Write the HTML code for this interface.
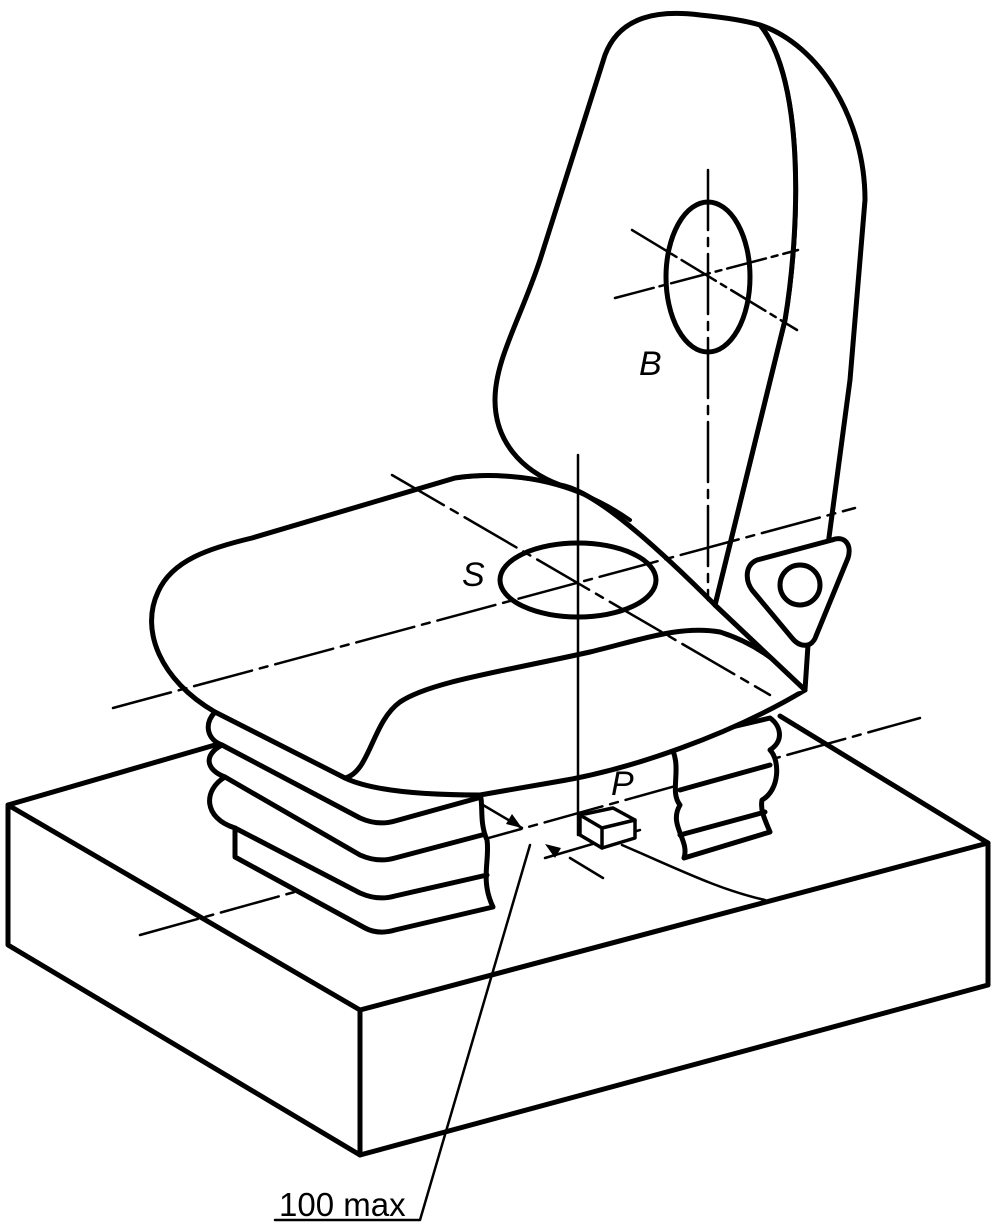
<!DOCTYPE html>
<html><head><meta charset="utf-8"><style>
html,body{margin:0;padding:0;background:#fff;}
svg{display:block;}
text{font-family:"Liberation Sans",Arial,sans-serif;fill:#000;}
</style></head><body>
<svg width="994" height="1232" viewBox="0 0 994 1232" xmlns="http://www.w3.org/2000/svg">
<g fill="none" stroke="#000" stroke-linejoin="round" stroke-linecap="round">
<g stroke-width="5">
<path d="M8,805 L215,745"/>
<path d="M8,805 L360,1010 L988,843 L988,985 L360,1155 L8,945 Z"/>
<path d="M360,1010 L360,1155"/>
<path d="M780,716 L988,843"/>
</g>
<g stroke-width="2.5">
<path d="M140,935 L920,718" stroke-dasharray="60,8,8,8"/>
<path d="M545,858 L640,830"/>
<path d="M483,805 L522,828"/>
<path d="M603,878 L570,858"/>
<path d="M530,845 L420,1220 L275,1220"/>
<path d="M622,845 C680,870 720,890 765,900"/>
</g>
<polygon points="522,828 506,824 512,814" fill="#000" stroke="none"/>
<polygon points="545,844 561,848 555,858" fill="#000" stroke="none"/>
<g stroke-width="5" fill="#fff">
<path d="M668,742 C685,765 668,790 680,805 C668,825 690,840 684,858 L770,832 C765,820 760,810 762,800 C780,790 780,760 770,750 C785,740 780,725 770,718 Z"/>
</g>
<g stroke-width="5">
<path d="M680,790 L770,765"/>
<path d="M680,835 L765,812"/>
</g>
<g stroke-width="5" fill="#fff">
<path d="M215,712 C203,725 208,740 222,745 C203,755 206,770 225,777 C203,790 203,818 235,828 L235,857 L365,928 Q378,935 395,930 L493,907 C480,880 490,860 487,840 C478,820 485,800 478,790 Z"/>
</g>
<g stroke-width="5">
<path d="M222,745 L360,818 Q378,826 395,821 L478,798"/>
<path d="M225,777 L360,855 Q378,863 395,858 L482,835"/>
<path d="M235,828 L360,893 Q378,901 395,896 L487,875"/>
</g>
<g stroke-width="5" fill="#fff">
<path d="M215,712 C160,680 140,630 158,592 C172,560 210,548 252,538 L455,478 C520,468 600,490 640,520 C680,550 700,580 715,605 L805,690 C730,735 630,770 555,782 L480,795 C420,795 370,790 345,778 Z"/>
<path d="M345,778 C370,772 372,722 400,702 C430,682 500,672 590,652 C640,640 680,625 720,632 C752,642 782,662 805,690"/>
</g>
<g stroke-width="5" fill="#fff">
<path d="M760,25 C820,45 865,120 865,200 L850,380 L828,545 L808,645 L805,690 L715,605 L785,320 C800,230 805,80 760,25 Z"/>
<path d="M715,605 C640,530 590,490 560,485 C520,470 495,440 495,400 C495,360 520,320 540,260 L605,55 C620,15 660,10 700,15 C730,18 750,22 760,25 C805,80 800,230 785,320 Z"/>
</g>
<path d="M458,478 C520,470 580,485 630,520" stroke-width="4"/>
<g stroke-width="2.5">
<path d="M113,708 L855,508" stroke-dasharray="60,8,8,8"/>
<path d="M392,475 L770,695" stroke-dasharray="60,8,8,8"/>
<path d="M708,170 L708,600" stroke-dasharray="60,8,8,8"/>
<path d="M578,455 L578,835"/>
<path d="M615,298 L798,250" stroke-dasharray="40,6,6,6"/>
<path d="M632,230 L797,330" stroke-dasharray="40,6,6,6"/>
</g>
<g stroke-width="5" fill="#fff">
<path d="M757,560 C745,565 745,580 752,590 L792,638 C800,648 812,648 816,636 L848,558 C852,545 845,535 832,540 Z"/>
<circle cx="800" cy="585" r="20"/>
</g>
<g stroke-width="5">
<ellipse cx="708" cy="277" rx="42" ry="75"/>
<ellipse cx="578" cy="580" rx="78" ry="37"/>
</g>
<g stroke-width="3.5" fill="#fff">
<path d="M580,815 L580,835 L602,848 L635,838 L635,820 L613,808 Z"/>
<path d="M580,815 L602,828 L635,820 M602,828 L602,848"/>
</g>
</g>
<text x="639" y="375" font-size="34" font-style="italic">B</text>
<text x="462" y="586" font-size="34" font-style="italic">S</text>
<text x="611" y="795" font-size="34" font-style="italic">P</text>
<text x="279" y="1216" font-size="33">100 max</text>
</svg>
</body></html>
